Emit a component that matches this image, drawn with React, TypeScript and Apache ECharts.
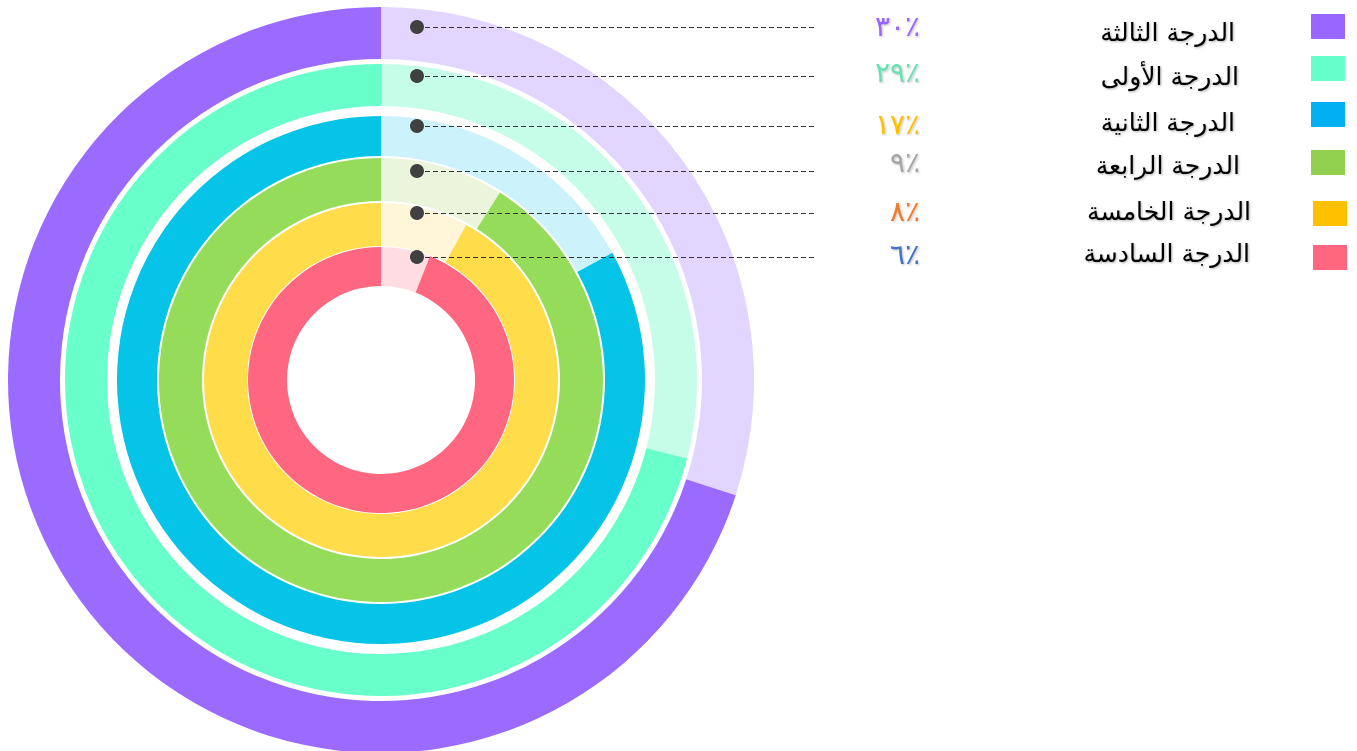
import React, { useEffect, useRef } from "react";
import * as echarts from "echarts";

const categories = ["الدرجة الثالثة", "الدرجة الأولى", "الدرجة الثانية", "الدرجة الرابعة", "الدرجة الخامسة", "الدرجة السادسة"];
const values = [30, 29, 17, 9, 8, 6];
const ringColors = ["#9B6BFF", "#69FFCB", "#06C3E8", "#95DC5A", "#FFDC4A", "#FF6680"];
const lightColors = ["#E2D5FF", "#C6FDE9", "#CCF2FC", "#EAF5DC", "#FFF6D9", "#FFDDE3"];
const legendColors = ["#9966FF", "#66FFCC", "#00B0F0", "#92D050", "#FFC000", "#FF6680"];
const percentColors = ["#9966FF", "#66E2B4", "#FFC000", "#A6A6A6", "#ED7D31", "#4472C4"];

// layout
const CX = 381;
const CY = 380;
const radii: [number, number][] = [
  [321, 373],
  [274, 316],
  [224, 264],
  [179, 222],
  [134, 177],
  [94, 133],
];
const rowY = [27, 76, 126, 171, 213, 257];
const percentY = [26, 72, 124, 162, 211, 254];
const legendTextY = [32, 76, 122, 165, 211, 253];
const legendTextX = [1235, 1239, 1235, 1240, 1251, 1250];
const legendBoxX = [1311, 1311, 1311, 1311, 1313, 1313];
const legendBoxY = [14, 56, 102, 150, 201, 245];

const arabicDigits = "٠١٢٣٤٥٦٧٨٩";
const toArabic = (n: number) => String(n).split("").map((d) => arabicDigits[+d]).join("") + "٪";

export default function App() {
  const ref = useRef<HTMLDivElement>(null);
  useEffect(() => {
    const chart = echarts.init(ref.current!, null, { renderer: "svg" });
    const series: any[] = values.map((v, i) => ({
      type: "pie",
      name: categories[i],
      center: [CX, CY],
      radius: radii[i],
      startAngle: 90,
      clockwise: true,
      silent: true,
      label: { show: false },
      labelLine: { show: false },
      emphasis: { disabled: true },
      itemStyle: { borderWidth: 0 },
      data: [
        { value: v, name: categories[i], itemStyle: { color: lightColors[i], borderWidth: 0 } },
        { value: 100 - v, name: categories[i] + "-rest", itemStyle: { color: ringColors[i], borderWidth: 0 } },
      ],
    }));
    const graphic: any[] = [];
    values.forEach((v, i) => {
      graphic.push({
        type: "line",
        shape: { x1: 417, y1: rowY[i] + 0.5, x2: 815, y2: rowY[i] + 0.5 },
        style: { stroke: "#333333", lineWidth: 1, lineDash: [5, 3] },
        z: 10,
      });
      graphic.push({
        type: "circle",
        shape: { cx: 417, cy: rowY[i], r: 7 },
        style: { fill: "#404040" },
        z: 11,
      });
      graphic.push({
        type: "text",
        x: 920,
        y: percentY[i],
        style: {
          text: toArabic(v),
          fill: percentColors[i],
          font: "28px 'DejaVu Sans', Arial, sans-serif",
          align: "right",
          verticalAlign: "middle",
          textShadowColor: "rgba(0,0,0,0.25)",
          textShadowBlur: 2,
          textShadowOffsetX: 1,
          textShadowOffsetY: 1,
        },
        z: 10,
      });
      graphic.push({
        type: "text",
        x: legendTextX[i],
        y: legendTextY[i],
        style: {
          text: categories[i],
          fill: "#000000",
          font: "25px 'DejaVu Sans', Arial, sans-serif",
          align: "right",
          verticalAlign: "middle",
          textShadowColor: "rgba(0,0,0,0.3)",
          textShadowBlur: 2,
          textShadowOffsetX: 1,
          textShadowOffsetY: 1,
        },
        z: 10,
      });
      graphic.push({
        type: "rect",
        shape: { x: legendBoxX[i], y: legendBoxY[i], width: 34, height: 25 },
        style: { fill: legendColors[i] },
        z: 10,
      });
    });
    chart.setOption({
      animation: false,
      backgroundColor: "#ffffff",
      series,
      graphic,
    });
    return () => chart.dispose();
  }, []);
  return (
    <div
      ref={ref}
      style={{ position: "fixed", left: 0, top: 0, width: 1357, height: 751 }}
    />
  );
}
